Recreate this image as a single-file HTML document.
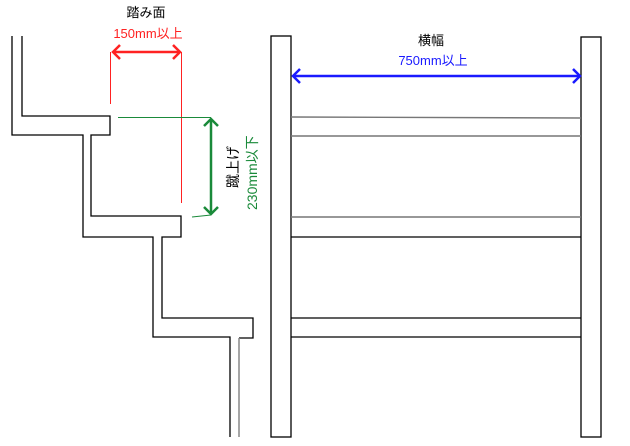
<!DOCTYPE html>
<html><head><meta charset="utf-8"><style>
body{margin:0;background:#fff;width:630px;height:446px;overflow:hidden}
svg{position:absolute;left:0;top:0}
.t{font-family:"Liberation Sans","Noto Sans CJK JP",sans-serif;font-size:13px}
</style></head><body>
<svg width="630" height="446" viewBox="0 0 630 446">
<g fill="none" stroke="#000" stroke-width="1.3">
<polyline points="12,36 12,135 83,135 83,237 153,237 153,337 230,337 230,437"/>
<polyline points="22,36 22,116 110,116 110,135 91,135 91,216 181,216 181,237 162,237 162,318 253,318 253,338 239,338"/>
<rect x="271" y="36" width="20" height="401"/>
<rect x="581" y="37" width="20" height="400"/>
<line x1="291" y1="237" x2="581" y2="237"/>
<line x1="291" y1="318" x2="581" y2="318"/>
<line x1="291" y1="337" x2="581" y2="337"/>
</g>
<line x1="239" y1="338" x2="239" y2="437" stroke="#888" stroke-width="1.5"/>
<g stroke="#777" stroke-width="1.4">
<line x1="291" y1="117" x2="581" y2="118"/>
<line x1="291" y1="136" x2="581" y2="136"/>
<line x1="291" y1="217" x2="581" y2="217"/>
</g>
<g stroke="#f22" stroke-width="1" fill="none">
<line x1="110.5" y1="52" x2="110.5" y2="104"/>
<line x1="181.5" y1="52" x2="181.5" y2="203"/>
<g stroke-width="2.5"><line x1="113" y1="52" x2="180" y2="52"/><polyline points="120,45 113,52 120,59"/><polyline points="173,45 180,52 173,59"/></g>
</g>
<g stroke="#1a8a3a" fill="none">
<line x1="118" y1="117.5" x2="211" y2="117.5" stroke-width="1"/>
<line x1="192" y1="217" x2="211" y2="215" stroke-width="1"/>
<g stroke-width="2.5"><line x1="211" y1="119" x2="211" y2="214"/><polyline points="204,126 211,119 218,126"/><polyline points="204,207 211,214 218,207"/></g>
</g>
<g stroke="#1a1aff" fill="none" stroke-width="2.5">
<line x1="293" y1="76" x2="580" y2="76"/><polyline points="300,69 293,76 300,83"/><polyline points="573,69 580,76 573,83"/>
</g>
<text class="t" x="146" y="17" text-anchor="middle" fill="#000">踏み面</text>
<text class="t" x="148" y="38" text-anchor="middle" fill="#f22">150mm以上</text>
<text class="t" x="431" y="45" text-anchor="middle" fill="#000">横幅</text>
<text class="t" x="433" y="65" text-anchor="middle" fill="#1a1aff">750mm以上</text>
<text class="t" style="font-size:14px" transform="translate(238,188) rotate(-90)" fill="#000">蹴上げ</text>
<text class="t" style="font-size:14px" transform="translate(257,210) rotate(-90)" fill="#1a8a3a">230mm以下</text>
</svg>
</body></html>
